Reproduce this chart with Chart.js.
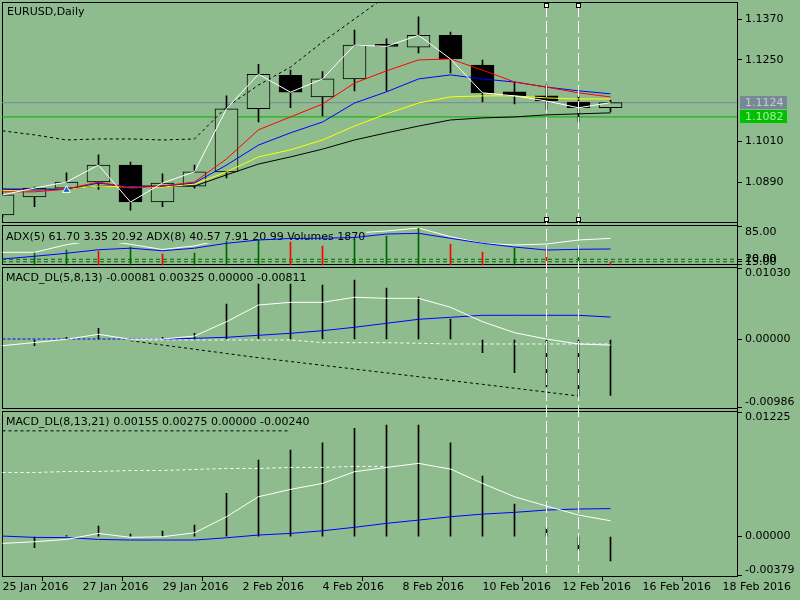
<!DOCTYPE html>
<html>
<head>
<meta charset="utf-8">
<title>EURUSD,Daily</title>
<script src="https://cdn.jsdelivr.net/npm/chart.js@4.4.1/dist/chart.umd.min.js"></script>
<style>
  html, body { margin: 0; padding: 0; background: #8fbc8f; }
  #wrap { width: 800px; height: 600px; }
</style>
</head>
<body>
<div id="wrap"><canvas id="chart" width="800" height="600"></canvas></div>
<script>
// x axis: one slot per daily bar, bar 0 = 25 Jan 2016
const dateLabels = ['25 Jan 2016', '27 Jan 2016', '29 Jan 2016', '2 Feb 2016', '4 Feb 2016',
                    '8 Feb 2016', '10 Feb 2016', '12 Feb 2016', '16 Feb 2016', '18 Feb 2016'];
const dateTickPos = [0, 2.5, 5, 7.5, 10, 12.5, 15, 17.5, 20, 22.5];

// EURUSD daily candles
const candleOpen  = [1.0793, 1.0846, 1.0872, 1.0890, 1.0940, 1.0831, 1.0878, 1.0920, 1.1106, 1.1205,
                     1.1141, 1.1194, 1.1296, 1.1288, 1.1323, 1.1235, 1.1156, 1.1144, 1.1126, 1.1109];
const candleHigh  = [1.0856, 1.0875, 1.0917, 1.0970, 1.0949, 1.0914, 1.0940, 1.1144, 1.1237, 1.1220,
                     1.1216, 1.1338, 1.1312, 1.1377, 1.1332, 1.1250, 1.1185, 1.1176, 1.1144, 1.1132];
const candleLow   = [1.0788, 1.0817, 1.0862, 1.0868, 1.0807, 1.0817, 1.0872, 1.0902, 1.1067, 1.1109,
                     1.1085, 1.1159, 1.1159, 1.1271, 1.1212, 1.1126, 1.1120, 1.1103, 1.1067, 1.1097];
const candleClose = [1.0852, 1.0872, 1.0890, 1.0940, 1.0831, 1.0887, 1.0920, 1.1106, 1.1208, 1.1155,
                     1.1194, 1.1294, 1.1290, 1.1323, 1.1253, 1.1153, 1.1144, 1.1129, 1.1109, 1.1124];

// moving averages on the price window
const maRed    = [1.0861, 1.0861, 1.0869, 1.0890, 1.0872, 1.0878, 1.0890, 1.0958, 1.1044, 1.1082,
                  1.1120, 1.1182, 1.1218, 1.1250, 1.1253, 1.1220, 1.1185, 1.1170, 1.1153, 1.1141];
const maBlue   = [1.0869, 1.0866, 1.0869, 1.0887, 1.0875, 1.0878, 1.0887, 1.0940, 1.0999, 1.1035,
                  1.1067, 1.1123, 1.1156, 1.1194, 1.1206, 1.1194, 1.1185, 1.1170, 1.1159, 1.1150];
const maYellow = [1.0866, 1.0866, 1.0869, 1.0878, 1.0875, 1.0875, 1.0884, 1.0920, 1.0964, 1.0985,
                  1.1014, 1.1055, 1.1091, 1.1123, 1.1141, 1.1144, 1.1144, 1.1138, 1.1135, 1.1135];
const maBlack  = [1.0869, 1.0869, 1.0869, 1.0878, 1.0878, 1.0878, 1.0878, 1.0911, 1.0943, 1.0964,
                  1.0987, 1.1014, 1.1035, 1.1055, 1.1073, 1.1079, 1.1082, 1.1088, 1.1091, 1.1094];
const envUpper = [1.1041, 1.1029, 1.1014, 1.1017, 1.1017, 1.1014, 1.1017, 1.1111, 1.1176, 1.1229,
                  1.1303, 1.1371, 1.1439];
const bidPrice = 1.1124;
const levelPrice = 1.1082;
const arrowBar = 2, arrowPrice = 1.0866;
const markedBars = [17, 18];

// ADX(5), ADX(8) and volumes
const adxWhite = [33.9, 33.9, 49.1, 58.5, 49.9, 39.5, 46.9, 60.5, 64.5, 67.5,
                  70.4, 72.4, 76.4, 82.4, 65.1, 51.9, 48.5, 50.5, 58.5, 61.7];
const adxBlue  = [20.6, 26.0, 32.0, 39.1, 42.1, 37.1, 42.1, 51.9, 58.5, 61.5,
                  61.9, 63.5, 70.4, 71.8, 61.9, 51.9, 44.5, 38.5, 39.9, 40.6];
const volumes  = [null, 32.6, 38.5, 36.5, 44.5, 30.6, 32.6, 56.5, 58.5, 54.5,
                  46.5, 60.5, 66.5, 82.4, 50.5, 34.6, 42.5, 40.5, 40.5, 14.6];
const volDir   = [1, 1, 1, -1, 1, -1, 1, 1, 1, -1, -1, 1, 1, 1, -1, -1, 1, -1, 1, -1];
const adxLevels = [20, 15];

// MACD_DL(5,8,13)
const macd1Hist  = [null, -0.0009, 0.0003, 0.00162, 0.0001, 0.0003, 0.0009, 0.00515, 0.00805, 0.00805,
                    0.0079, 0.00863, 0.00747, 0.00616, 0.00297, -0.00191, -0.00481, -0.00684, -0.00819, -0.00811];
const macd1White = [-0.0009, -0.00044, 0.00003, 0.00075, 0.00003, 0.00007, 0.0005, 0.00258, 0.005, 0.00539,
                    0.00539, 0.00612, 0.00597, 0.00597, 0.00467, 0.00258, 0.00099, 0.00007, -0.00065, -0.00081];
const macd1Blue  = [0.00007, 0.00007, 0.00007, 0.00007, 0.00007, 0.00007, 0.00017, 0.00032, 0.00061, 0.0009,
                    0.00128, 0.00177, 0.00235, 0.00293, 0.00322, 0.00351, 0.00351, 0.00351, 0.00351, 0.00325];
const macd1Dash  = [null, null, null, null, -0.00007, -0.00007, -0.00007, -0.00007, -0.00007, -0.00007,
                    -0.00046, -0.00046, -0.00046, -0.00055, -0.00065, -0.00065, -0.00065, -0.00065, -0.00065, -0.00065];
const macd1Black = [null, null, null, null, -0.00017, -0.0008, -0.00141, -0.00203, -0.00264, -0.00319,
                    -0.00374, -0.00429, -0.00484, -0.00539, -0.00595, -0.0065, -0.00706, -0.00763, -0.00819, null];

// MACD_DL(8,13,21)
const macd2Hist  = [null, -0.0011, 0.0001, 0.00103, 0.00025, 0.00054, 0.00113, 0.00425, 0.00753, 0.00851,
                    0.00923, 0.01065, 0.01097, 0.01097, 0.00923, 0.00595, 0.0032, 0.00087, -0.00133, -0.0024];
const macd2White = [-0.00067, -0.00051, -0.00028, 0.00031, -0.00008, -0.00002, 0.00037, 0.00195, 0.00392, 0.00464,
                    0.00523, 0.00638, 0.0068, 0.0072, 0.00664, 0.00523, 0.00392, 0.003, 0.00212, 0.00155];
const macd2Blue  = [0.00005, -0.00008, -0.0001, -0.00028, -0.00034, -0.00034, -0.00034, -0.00012, 0.00015, 0.00031,
                    0.00057, 0.00091, 0.0013, 0.00162, 0.00195, 0.00221, 0.00238, 0.00261, 0.00271, 0.00275];
const macd2Dash  = [0.0063, 0.0063, 0.0064, 0.0064, 0.0065, 0.0065, 0.0066, 0.0067, 0.0067, 0.0068,
                    0.0068, 0.0069, 0.0069];
const macd2Black = [0.0104, 0.0104, 0.0104, 0.0104, 0.0104, 0.0104, 0.0104, 0.0104, 0.0104, 0.0104];

// axis ranges and right-hand tick values
const xRange = [-0.015625, 22.953125];
const mainRange = [1.07676, 1.14210];
const adxRange = [7.63, 91.38];
const macd1Range = [-0.01015, 0.01073];
const macd2Range = [-0.00388, 0.0125];
const mainTicks = [1.137, 1.125, 1.101, 1.089];
const adxTicks = [85, 20, 15, 10];
const macd1Ticks = [0.0103, 0, -0.00986];
const macd2Ticks = [0.01225, 0, -0.00379];

const BG = '#8fbc8f';
const FONT = '11px "DejaVu Sans", Verdana, sans-serif';
Chart.defaults.font.family = '"DejaVu Sans", Verdana, sans-serif';
Chart.defaults.font.size = 11;
Chart.defaults.color = '#000';

function pts(arr) {
    return arr.map((v, i) => (v === null ? null : { x: i, y: v })).filter(p => p);
}

function line(arr, color, axis, order, extra) {
    return Object.assign({
        type: 'line', data: pts(arr), yAxisID: axis, order: order,
        borderColor: color, borderWidth: 1, pointRadius: 0, tension: 0, fill: false
    }, extra || {});
}

function hline(value, color, axis, order, extra) {
    return Object.assign({
        type: 'line', data: [{ x: xRange[0], y: value }, { x: xRange[1], y: value }],
        yAxisID: axis, order: order, borderColor: color, borderWidth: 1, pointRadius: 0, fill: false
    }, extra || {});
}

function hist(arr, color, axis, order, extra) {
    return Object.assign({
        type: 'bar', data: pts(arr), yAxisID: axis, order: order,
        backgroundColor: color, barThickness: 1, grouped: false
    }, extra || {});
}

// top label drawn below its tick, bottom label above it (as the terminal does)
function yAxis(range, weight, tickVals, digits, shiftEnds) {
    return {
        type: 'linear', position: 'right', stack: 'panes', stackWeight: weight,
        min: range[0], max: range[1],
        border: { display: true, color: '#000' },
        grid: { drawOnChartArea: false, drawTicks: true, tickLength: 5, color: '#000' },
        ticks: {
            color: '#000', padding: 3, autoSkip: false,
            font: { size: 11, lineHeight: 0.9 },
            callback: (value, i, ticks) => {
                const text = value.toFixed(digits);
                if (!shiftEnds) return text;
                if (i === 0) return ['', text];
                if (i === ticks.length - 1) return [text, ''];
                return text;
            }
        },
        afterBuildTicks: s => { s.ticks = tickVals.map(v => ({ value: v })); },
        afterFit: s => { s.width = 63; s.paddingTop = 0; s.paddingBottom = 0; }
    };
}

const paneIds = ['yMain', 'yAdx', 'yM1', 'yM2'];
const paneTitles = [
    ['yMain', 'EURUSD,Daily', 10.5],
    ['yM1', 'MACD_DL(5,8,13) -0.00081 0.00325 0.00000 -0.00811', 12.5],
    ['yM2', 'MACD_DL(8,13,21) 0.00155 0.00275 0.00000 -0.00240', 12.2]
];
const adxTitle = 'ADX(5) 61.70 3.35 20.92 ADX(8) 40.57 7.91 20.99 Volumes 1870';

const paneDecor = {
    id: 'paneDecor',
    beforeDatasetsDraw(chart) {
        const { ctx, chartArea: a } = chart;
        ctx.save();
        ctx.strokeStyle = '#000';
        ctx.lineWidth = 1;
        paneIds.forEach((id, k) => {
            const s = chart.scales[id];
            const top = k === 0 ? Math.floor(s.top) + 0.5 : Math.floor(s.top + 1.5) + 0.5;
            const bottom = k === paneIds.length - 1 ? Math.floor(s.bottom) + 0.5 : Math.floor(s.bottom - 1.5) + 0.5;
            ctx.strokeRect(Math.floor(a.left) + 0.5, top, Math.floor(a.right) - Math.floor(a.left), bottom - top);
        });
        ctx.restore();
    },
    afterDatasetDraw(chart, args) {
        // the ADX caption sits over the white ADX line but under the rest
        if (chart.data.datasets[args.index].label !== 'adxWhite') return;
        const { ctx } = chart;
        const s = chart.scales.yAdx;
        const y = s.top + 14;
        ctx.save();
        ctx.font = FONT;
        const w = ctx.measureText(adxTitle).width;
        ctx.fillStyle = BG;
        ctx.fillRect(5, y - 5.5, w + 2, 11);
        ctx.fillStyle = '#000';
        ctx.textBaseline = 'middle';
        ctx.fillText(adxTitle, 6, y);
        ctx.restore();
    },
    afterDatasetsDraw(chart) {
        const { ctx, chartArea: a } = chart;
        const xs = chart.scales.x;
        const main = chart.scales.yMain;
        ctx.save();
        markedBars.forEach(b => {
            const x = xs.getPixelForValue(b);
            ctx.strokeStyle = '#fff';
            ctx.lineWidth = 1;
            ctx.setLineDash([12, 4]);
            ctx.beginPath();
            ctx.moveTo(x, a.top + 3);
            ctx.lineTo(x, a.bottom - 3);
            ctx.stroke();
            ctx.setLineDash([]);
            [main.top + 1, main.bottom - 6.5].forEach(y0 => {
                const sx = Math.floor(x) - 2 + 0.5, sy = Math.floor(y0) + 0.5;
                ctx.fillStyle = '#fff';
                ctx.fillRect(sx, sy, 4, 4);
                ctx.strokeStyle = '#000';
                ctx.strokeRect(sx, sy, 4, 4);
            });
        });
        ctx.restore();
    },
    afterDraw(chart) {
        const { ctx } = chart;
        ctx.save();
        ctx.font = FONT;
        ctx.textBaseline = 'middle';
        ctx.fillStyle = '#000';
        paneTitles.forEach(([id, text, dy]) => {
            ctx.fillText(text, id === 'yMain' ? 7 : 6, chart.scales[id].top + dy);
        });
        // current price boxes on the price axis
        const main = chart.scales.yMain;
        [[bidPrice, '#778899', '#c4d0c4'], [levelPrice, '#00c000', '#a8eca8']].forEach(([p, bg, fg]) => {
            const y = Math.round(main.getPixelForValue(p));
            ctx.fillStyle = bg;
            ctx.fillRect(740, y - 7, 47, 13);
            ctx.fillStyle = fg;
            ctx.fillText(p.toFixed(4), 745, y);
        });
        ctx.restore();
    }
};

const upColor = c => (candleClose[c.raw.x] >= candleOpen[c.raw.x] ? BG : '#000');

const ctx = document.getElementById('chart').getContext('2d');
new Chart(ctx, {
    type: 'line',
    data: {
        datasets: [
            // price window
            hline(bidPrice, '#778899', 'yMain', 100),
            hline(levelPrice, '#00b400', 'yMain', 100),
            {
                type: 'bar', yAxisID: 'yMain', order: 90, grouped: false, barThickness: 1,
                data: candleHigh.map((h, i) => ({ x: i, y: [candleLow[i], h] })),
                backgroundColor: '#000'
            },
            {
                type: 'bar', yAxisID: 'yMain', order: 80, grouped: false, barThickness: 23,
                data: candleOpen.map((o, i) => ({ x: i, y: [o, candleClose[i]] })),
                backgroundColor: upColor, borderColor: '#000', borderWidth: 1, borderSkipped: false
            },
            line(maBlack, '#000000', 'yMain', 70),
            line(maYellow, '#ffff00', 'yMain', 69),
            line(maBlue, '#0000ff', 'yMain', 68),
            line(maRed, '#ff0000', 'yMain', 67),
            line(envUpper, '#000000', 'yMain', 60, { borderDash: [3, 3] }),
            line(candleClose, '#ffffff', 'yMain', 50),
            {
                type: 'line', yAxisID: 'yMain', order: 40, showLine: false,
                data: [{ x: arrowBar, y: arrowPrice }],
                pointStyle: 'triangle', pointRadius: 4.5,
                backgroundColor: '#1e6ed2', borderColor: '#ffffff', borderWidth: 1
            },

            // ADX window
            hline(adxLevels[0], '#006400', 'yAdx', 96, { borderDash: [4, 3] }),
            hline(adxLevels[1], '#006400', 'yAdx', 96, { borderDash: [4, 3] }),
            line(adxWhite, '#ffffff', 'yAdx', 95, { label: 'adxWhite' }),
            hist(volumes, c => (volDir[c.raw.x] > 0 ? '#006400' : '#ff0000'), 'yAdx', 32, { base: adxRange[0] }),
            line(adxBlue, '#0000ff', 'yAdx', 30),

            // MACD_DL(5,8,13)
            hist(macd1Hist, '#000000', 'yM1', 90),
            line(macd1Black, '#000000', 'yM1', 24, { borderDash: [3, 3] }),
            line(macd1Dash, '#ffffff', 'yM1', 23, { borderDash: [3, 3] }),
            line(macd1Blue, '#0000ff', 'yM1', 22, {
                segment: { borderDash: c => (c.p0DataIndex < 5 ? [3, 2] : undefined) }
            }),
            line(macd1White, '#ffffff', 'yM1', 21),

            // MACD_DL(8,13,21)
            hist(macd2Hist, '#000000', 'yM2', 90),
            line(macd2Black, '#000000', 'yM2', 24, { borderDash: [3, 3] }),
            line(macd2Dash, '#ffffff', 'yM2', 23, { borderDash: [3, 3] }),
            line(macd2Blue, '#0000ff', 'yM2', 22),
            line(macd2White, '#ffffff', 'yM2', 21)
        ]
    },
    options: {
        responsive: false,
        animation: false,
        devicePixelRatio: 1,
        layout: { autoPadding: false, padding: { top: 2, left: 2, right: 0, bottom: 0 } },
        plugins: { legend: { display: false }, tooltip: { enabled: false } },
        scales: {
            x: {
                type: 'linear', position: 'bottom', offset: false,
                min: xRange[0], max: xRange[1],
                border: { display: true, color: '#000' },
                grid: { drawOnChartArea: false, drawTicks: true, tickLength: 5, color: '#000' },
                ticks: {
                    color: '#000', padding: 0, align: 'start', autoSkip: false,
                    maxRotation: 0, minRotation: 0,
                    callback: (value, i) => dateLabels[i]
                },
                afterBuildTicks: s => { s.ticks = dateTickPos.map(v => ({ value: v })); },
                afterFit: s => { s.height = 24; s.paddingLeft = 0; s.paddingRight = 0; }
            },
            yMain: yAxis(mainRange, 221.5, mainTicks, 4, false),
            yAdx: yAxis(adxRange, 42, adxTicks, 2, true),
            yM1: yAxis(macd1Range, 144, macd1Ticks, 5, true),
            yM2: yAxis(macd2Range, 166.5, macd2Ticks, 5, true)
        }
    },
    plugins: [paneDecor]
});
</script>
</body>
</html>
